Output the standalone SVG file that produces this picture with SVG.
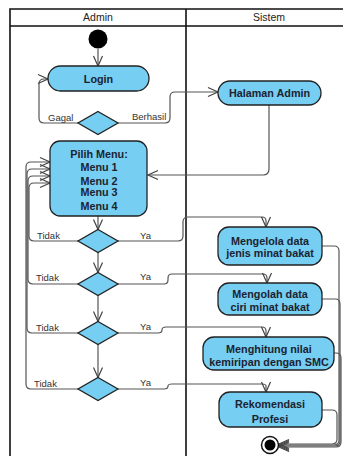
<svg xmlns="http://www.w3.org/2000/svg" width="343" height="456" viewBox="0 0 343 456">
<defs>
<style>
.frame{stroke:#111;stroke-width:1.6;fill:none}
.hdr{font-family:"Liberation Sans",Arial,sans-serif;font-size:10.5px;fill:#222;text-anchor:middle}
.act{fill:#76CEF2;stroke:#222;stroke-width:1.3}
.t{font-family:"Liberation Sans",Arial,sans-serif;font-size:10.8px;font-weight:bold;fill:#1c2330;text-anchor:middle}
.lbl{font-family:"Liberation Sans",Arial,sans-serif;font-size:9.5px;fill:#333}
.c{fill:none;stroke:#555;stroke-width:1.2}
</style>
<marker id="a" markerUnits="userSpaceOnUse" markerWidth="12" markerHeight="11" refX="10" refY="5" orient="auto" overflow="visible">
<path d="M0,0.5 L10,5 L0,9.5" fill="none" stroke="#444" stroke-width="1.2"/>
</marker>
</defs>
<rect width="343" height="456" fill="#fff"/>
<g id="frame">
<path class="frame" d="M10,456 V9 H343 M10,26 H343 M186,9 V456"/>
<text class="hdr" x="98" y="21">Admin</text>
<text class="hdr" x="269" y="21">Sistem</text>
</g>
<g id="connectors">
<path class="c" marker-end="url(#a)" d="M98,49 V66"/>
<path class="c" marker-end="url(#a)" d="M78,123 H44 Q39,123 39,118 V84 Q39,79 44,79 H48"/>
<path class="c" marker-end="url(#a)" d="M118,123 H165 Q170,123 170,118 V97 Q170,92 175,92 H218"/>
<path class="c" marker-end="url(#a)" d="M269,105 V169 Q269,175 263,175 H148"/>
<path class="c" marker-end="url(#a)" d="M98,216 V229.5"/>
<path class="c" marker-end="url(#a)" d="M98,252.5 V272.5"/>
<path class="c" marker-end="url(#a)" d="M98,295.5 V321.5"/>
<path class="c" marker-end="url(#a)" d="M98,344.5 V377.5"/>
<path class="c" marker-end="url(#a)" d="M118,241 H178 Q183,241 183,236 V222 Q183,217 188,217 H262 Q266,217 266,221 V227"/>
<path class="c" marker-end="url(#a)" d="M118,284 H164 Q168,284 168,280 V278 Q168,274 172,274 H263 Q267,274 267,278 V283"/>
<path class="c" marker-end="url(#a)" d="M118,333 H158 Q162,333 162,330 Q162,327 166,327 H262 Q266,327 266,331 V337"/>
<path class="c" marker-end="url(#a)" d="M118,389 H164 Q168,389 168,386 Q168,384 172,384 H262 Q266,384 266,386 V392"/>
<path class="c" marker-end="url(#a)" d="M78,241 H34 Q29,241 29,236 V188 Q29,183 34,183 H50"/>
<path class="c" marker-end="url(#a)" d="M78,284 H33 Q28,284 28,279 V181 Q28,176 33,176 H50"/>
<path class="c" marker-end="url(#a)" d="M78,333 H32 Q27,333 27,328 V174 Q27,169 32,169 H50"/>
<path class="c" marker-end="url(#a)" d="M78,389 H31 Q26,389 26,384 V167 Q26,162 31,162 H50"/>
<path class="c" marker-end="url(#a)" d="M322,246 H334 Q339,246 339,251 V440 Q339,445 334,445 H279"/>
<path class="c" marker-end="url(#a)" d="M322,299 H335 Q340,299 340,304 V441 Q340,446 335,446 H279"/>
<path class="c" marker-end="url(#a)" d="M334,353 H336 Q341,353 341,358 V442 Q341,447 336,447 H279"/>
<path class="c" marker-end="url(#a)" d="M322,410 H332 Q337,410 337,415 V439 Q337,444 332,444 H279"/>
<text class="lbl" x="48" y="121">Gagal</text>
<text class="lbl" x="132" y="120">Berhasil</text>
<text class="lbl" x="37" y="239">Tidak</text>
<text class="lbl" x="140" y="239">Ya</text>
<text class="lbl" x="36" y="281">Tidak</text>
<text class="lbl" x="140" y="280">Ya</text>
<text class="lbl" x="36" y="331">Tidak</text>
<text class="lbl" x="140" y="330">Ya</text>
<text class="lbl" x="34" y="387">Tidak</text>
<text class="lbl" x="140" y="386">Ya</text>
</g>
<g id="start"><circle cx="98" cy="39" r="9.5" fill="#000"/></g>
<g id="login">
<rect class="act" x="48" y="66" width="101" height="25" rx="12.5"/>
<text class="t" x="98.5" y="82.5">Login</text>
</g>
<g id="d1"><polygon class="act" points="98,111.5 118,123 98,134.5 78,123"/></g>
<g id="halaman">
<rect class="act" x="218" y="81" width="103" height="24" rx="12"/>
<text class="t" x="269.5" y="96.8">Halaman Admin</text>
</g>
<g id="pilih">
<rect class="act" x="50" y="141" width="97" height="75" rx="10"/>
<text class="t" x="99" y="158">Pilih Menu:</text>
<text class="t" x="99" y="171">Menu 1</text>
<text class="t" x="99" y="185">Menu 2</text>
<text class="t" x="99" y="196">Menu 3</text>
<text class="t" x="99" y="210">Menu 4</text>
</g>
<g id="d2"><polygon class="act" points="98,229.5 118,241 98,252.5 78,241"/></g>
<g id="d3"><polygon class="act" points="98,272.5 118,284 98,295.5 78,284"/></g>
<g id="d4"><polygon class="act" points="98,321.5 118,333 98,344.5 78,333"/></g>
<g id="d5"><polygon class="act" points="98,377.5 118,389 98,400.5 78,389"/></g>
<g id="mengelola">
<rect class="act" x="218" y="227" width="104" height="38" rx="11"/>
<text class="t" x="270" y="244.5">Mengelola data</text>
<text class="t" x="270" y="257">jenis minat bakat</text>
</g>
<g id="mengolah">
<rect class="act" x="218" y="283" width="104" height="32" rx="11"/>
<text class="t" x="270" y="298">Mengolah data</text>
<text class="t" x="270" y="310.5">ciri minat bakat</text>
</g>
<g id="menghitung">
<rect class="act" x="203" y="337" width="131" height="33" rx="11"/>
<text class="t" x="269" y="353">Menghitung nilai</text>
<text class="t" x="269" y="366">kemiripan dengan SMC</text>
</g>
<g id="rekomendasi">
<rect class="act" x="219" y="392" width="103" height="35" rx="11"/>
<text class="t" x="270" y="407.5">Rekomendasi</text>
<text class="t" x="270" y="422.5">Profesi</text>
</g>
<g id="end">
<circle cx="270" cy="445" r="8.5" fill="#fff" stroke="#111" stroke-width="1.5"/>
<circle cx="270" cy="445" r="5.5" fill="#000"/>
</g>
</svg>
